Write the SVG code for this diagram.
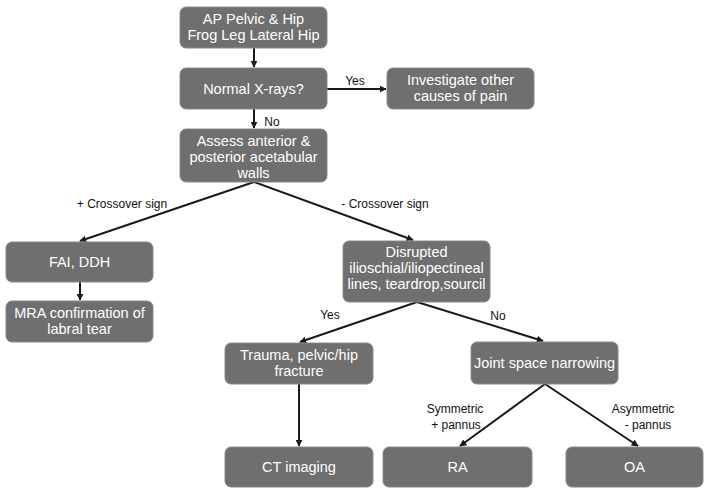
<svg xmlns="http://www.w3.org/2000/svg" width="707" height="488" viewBox="0 0 707 488">
<defs>
<marker id="ah" viewBox="0 0 10 10" refX="9" refY="5" markerWidth="7" markerHeight="7" orient="auto" markerUnits="userSpaceOnUse"><path d="M0,0 L10,5 L0,10 z" fill="#1a1a1a"/></marker>
<style>
.box{fill:#6f6f6f;stroke:#8a8a8a;stroke-width:1}
.t{font-family:"Liberation Sans",Arial,sans-serif;font-size:14.5px;fill:#fff;text-anchor:middle}
.l{font-family:"Liberation Sans",Arial,sans-serif;font-size:12px;fill:#111;text-anchor:middle}
.c{stroke:#1a1a1a;stroke-width:2;fill:none;marker-end:url(#ah)}
</style>
</defs>
<rect width="707" height="488" fill="#fff"/>
<g id="connectors">
<line class="c" x1="254" y1="48" x2="254" y2="67"/>
<line class="c" x1="327" y1="89" x2="386" y2="89"/>
<line class="c" x1="254" y1="109" x2="254" y2="128"/>
<line class="c" x1="254" y1="182" x2="80" y2="241"/>
<line class="c" x1="254" y1="182" x2="413" y2="240"/>
<line class="c" x1="80" y1="282" x2="80" y2="300"/>
<line class="c" x1="417" y1="302" x2="300" y2="342"/>
<line class="c" x1="417" y1="302" x2="543" y2="341"/>
<line class="c" x1="299" y1="384" x2="299" y2="446"/>
<line class="c" x1="545" y1="384" x2="460" y2="446"/>
<line class="c" x1="545" y1="384" x2="638" y2="446"/>
<text class="l" x="355" y="85">Yes</text>
<text class="l" x="272" y="126">No</text>
<text class="l" x="122" y="208">+ Crossover sign</text>
<text class="l" x="385" y="208">- Crossover sign</text>
<text class="l" x="330" y="319">Yes</text>
<text class="l" x="498" y="320">No</text>
<text class="l" x="455" y="413">Symmetric</text>
<text class="l" x="456" y="429">+ pannus</text>
<text class="l" x="643" y="413">Asymmetric</text>
<text class="l" x="648" y="429">- pannus</text>
</g>
<g id="n1"><rect class="box" x="180" y="7" width="147" height="41" rx="6"/><text class="t" x="253.5" y="24">AP Pelvic &amp; Hip</text><text class="t" x="253.5" y="40">Frog Leg Lateral Hip</text></g>
<g id="n2"><rect class="box" x="180" y="68" width="147" height="41" rx="6"/><text class="t" x="253.5" y="94">Normal X-rays?</text></g>
<g id="n3"><rect class="box" x="387" y="68" width="147" height="41" rx="6"/><text class="t" x="460.5" y="85">Investigate other</text><text class="t" x="460.5" y="101">causes of pain</text></g>
<g id="n4"><rect class="box" x="180" y="129" width="147" height="53" rx="6"/><text class="t" x="253.5" y="146">Assess anterior &amp;</text><text class="t" x="253.5" y="162">posterior acetabular</text><text class="t" x="253.5" y="178">walls</text></g>
<g id="n5"><rect class="box" x="6" y="242" width="147" height="40" rx="6"/><text class="t" x="79.5" y="267">FAI, DDH</text></g>
<g id="n6"><rect class="box" x="6" y="301" width="147" height="41" rx="6"/><text class="t" x="79.5" y="318">MRA confirmation of</text><text class="t" x="79.5" y="334">labral tear</text></g>
<g id="n7"><rect class="box" x="343" y="241" width="147" height="61" rx="6"/><text class="t" x="416.5" y="257">Disrupted</text><text class="t" x="416.5" y="273">ilioschial/iliopectineal</text><text class="t" x="416.5" y="289">lines, teardrop,sourcil</text></g>
<g id="n8"><rect class="box" x="225" y="343" width="148" height="41" rx="6"/><text class="t" x="299" y="360">Trauma, pelvic/hip</text><text class="t" x="299" y="376">fracture</text></g>
<g id="n9"><rect class="box" x="471" y="342" width="147" height="42" rx="6"/><text class="t" x="544.5" y="368">Joint space narrowing</text></g>
<g id="n10"><rect class="box" x="225" y="447" width="148" height="40" rx="6"/><text class="t" x="299" y="472">CT imaging</text></g>
<g id="n11"><rect class="box" x="383" y="447" width="149" height="40" rx="6"/><text class="t" x="457.5" y="472">RA</text></g>
<g id="n12"><rect class="box" x="566" y="447" width="137" height="40" rx="6"/><text class="t" x="634.5" y="472">OA</text></g>
</svg>
